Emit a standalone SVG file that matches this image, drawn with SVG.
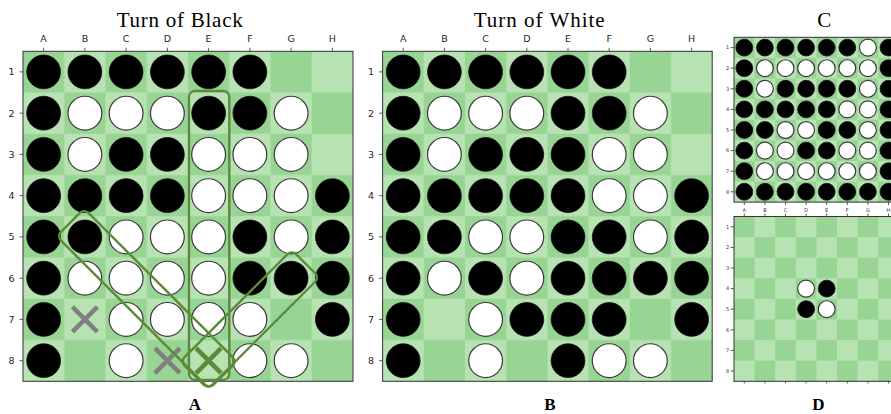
<svg xmlns="http://www.w3.org/2000/svg" xmlns:xlink="http://www.w3.org/1999/xlink" width="891" height="414" viewBox="0 0 891 414">
<style>
.dk{fill:#98d594}
.frame{fill:none;stroke:#333;stroke-width:1}
.bk{fill:#000;stroke:#111;stroke-width:0.8}
.wh{fill:#fff;stroke:#3a3a3a;stroke-width:1.2}
.sm .bk{stroke-width:0.5}
.sm .wh{stroke-width:0.7}
.tk{stroke:#333;stroke-width:0.8}
.lab{font-family:"DejaVu Sans",sans-serif;font-size:9.5px;fill:#262626}
.slab{font-family:"DejaVu Sans",sans-serif;font-size:5px;fill:#333}
.ttl{font-family:"Liberation Serif",serif;font-size:21px;fill:#000}
.cap{font-family:"Liberation Serif",serif;font-size:17px;font-weight:bold;fill:#000}
.hl{fill:none;stroke:#5b8a3c;stroke-width:2.4}
.xg{stroke:#808080;stroke-width:4.5;fill:none}
.xh{stroke:#5b8a3c;stroke-width:4.5;fill:none}
</style>
<defs>
<pattern id="chk" patternUnits="userSpaceOnUse" width="2" height="2">
<rect x="1" y="0" width="1" height="1" fill="#b7e3b2"/>
<rect x="0" y="1" width="1" height="1" fill="#b7e3b2"/>
</pattern>
<g id="bd">
<rect x="0" y="0" width="8" height="8" class="dk"/>
<rect x="0" y="0" width="8" height="8" fill="url(#chk)"/>
</g>
<circle id="b" cx="0.5" cy="0.5" r="0.41" class="bk" vector-effect="non-scaling-stroke"/>
<circle id="w" cx="0.5" cy="0.5" r="0.41" class="wh" vector-effect="non-scaling-stroke"/>
<path id="x" d="M-12.5,-12.5L12.5,12.5M-12.5,12.5L12.5,-12.5"/>
</defs>

<rect width="891" height="414" fill="#fff"/>

<!-- Titles -->
<text class="ttl" x="179.7" y="26.7" text-anchor="middle" textLength="126" lengthAdjust="spacing">Turn of Black</text>
<text class="ttl" x="539.2" y="26.7" text-anchor="middle" textLength="131" lengthAdjust="spacing">Turn of White</text>
<text class="ttl" x="824.2" y="26.7" text-anchor="middle">C</text>
<text class="cap" x="195" y="409.5" text-anchor="middle">A</text>
<text class="cap" x="550" y="409.5" text-anchor="middle">B</text>
<text class="cap" x="818.3" y="409.5" text-anchor="middle">D</text>

<!-- Board A -->
<g id="boardA">
<g transform="translate(23,51.3) scale(41.25)">
<use href="#bd"/>
<use href="#b" x="0" y="0"/><use href="#b" x="1" y="0"/><use href="#b" x="2" y="0"/><use href="#b" x="3" y="0"/><use href="#b" x="4" y="0"/><use href="#b" x="5" y="0"/>
<use href="#b" x="0" y="1"/><use href="#w" x="1" y="1"/><use href="#w" x="2" y="1"/><use href="#w" x="3" y="1"/><use href="#b" x="4" y="1"/><use href="#b" x="5" y="1"/><use href="#w" x="6" y="1"/>
<use href="#b" x="0" y="2"/><use href="#w" x="1" y="2"/><use href="#b" x="2" y="2"/><use href="#b" x="3" y="2"/><use href="#w" x="4" y="2"/><use href="#w" x="5" y="2"/><use href="#w" x="6" y="2"/>
<use href="#b" x="0" y="3"/><use href="#b" x="1" y="3"/><use href="#b" x="2" y="3"/><use href="#b" x="3" y="3"/><use href="#w" x="4" y="3"/><use href="#w" x="5" y="3"/><use href="#w" x="6" y="3"/><use href="#b" x="7" y="3"/>
<use href="#b" x="0" y="4"/><use href="#b" x="1" y="4"/><use href="#w" x="2" y="4"/><use href="#w" x="3" y="4"/><use href="#w" x="4" y="4"/><use href="#b" x="5" y="4"/><use href="#w" x="6" y="4"/><use href="#b" x="7" y="4"/>
<use href="#b" x="0" y="5"/><use href="#w" x="1" y="5"/><use href="#w" x="2" y="5"/><use href="#w" x="3" y="5"/><use href="#w" x="4" y="5"/><use href="#b" x="5" y="5"/><use href="#b" x="6" y="5"/><use href="#b" x="7" y="5"/>
<use href="#b" x="0" y="6"/><use href="#w" x="2" y="6"/><use href="#w" x="3" y="6"/><use href="#w" x="4" y="6"/><use href="#w" x="5" y="6"/><use href="#b" x="7" y="6"/>
<use href="#b" x="0" y="7"/><use href="#w" x="2" y="7"/><use href="#w" x="5" y="7"/><use href="#w" x="6" y="7"/>
</g>
<rect class="frame" x="23" y="51.3" width="330" height="330"/>
<g class="tk">
<path d="M43.6,47.8V51.3M84.9,47.8V51.3M126.1,47.8V51.3M167.4,47.8V51.3M208.6,47.8V51.3M249.9,47.8V51.3M291.1,47.8V51.3M332.4,47.8V51.3"/>
<path d="M19.5,71.9H23M19.5,113.2H23M19.5,154.4H23M19.5,195.7H23M19.5,236.9H23M19.5,278.2H23M19.5,319.4H23M19.5,360.7H23"/>
</g>
<g class="lab" text-anchor="middle">
<text x="43.6" y="41.7">A</text><text x="84.9" y="41.7">B</text><text x="126.1" y="41.7">C</text><text x="167.4" y="41.7">D</text><text x="208.6" y="41.7">E</text><text x="249.9" y="41.7">F</text><text x="291.1" y="41.7">G</text><text x="332.4" y="41.7">H</text>
</g>
<g class="lab" text-anchor="end">
<text x="14.5" y="75.3">1</text><text x="14.5" y="116.6">2</text><text x="14.5" y="157.8">3</text><text x="14.5" y="199.1">4</text><text x="14.5" y="240.3">5</text><text x="14.5" y="281.6">6</text><text x="14.5" y="322.8">7</text><text x="14.5" y="364.1">8</text>
</g>
<use href="#x" class="xg" transform="translate(84.9,319.4)"/>
<use href="#x" class="xg" transform="translate(167.4,360.7)"/>
<use href="#x" class="xh" transform="translate(208.6,360.7)"/>
</g>

<!-- Highlights on board A -->
<g id="connectors">
<rect class="hl" x="189" y="91" width="40.3" height="289" rx="6"/>
<rect class="hl" x="-108" y="-19.5" width="216" height="39" rx="6" transform="translate(146.75,298.8) rotate(45)"/>
<rect class="hl" x="-78.85" y="-19.5" width="157.7" height="39" rx="6" transform="translate(249.85,319.45) rotate(-45)"/>
</g>

<!-- Board B -->
<g id="boardB">
<g transform="translate(382.6,51.3) scale(41.2,41.25)">
<use href="#bd"/>
<use href="#b" x="0" y="0"/><use href="#b" x="1" y="0"/><use href="#b" x="2" y="0"/><use href="#b" x="3" y="0"/><use href="#b" x="4" y="0"/><use href="#b" x="5" y="0"/>
<use href="#b" x="0" y="1"/><use href="#w" x="1" y="1"/><use href="#w" x="2" y="1"/><use href="#w" x="3" y="1"/><use href="#b" x="4" y="1"/><use href="#b" x="5" y="1"/><use href="#w" x="6" y="1"/>
<use href="#b" x="0" y="2"/><use href="#w" x="1" y="2"/><use href="#b" x="2" y="2"/><use href="#b" x="3" y="2"/><use href="#b" x="4" y="2"/><use href="#w" x="5" y="2"/><use href="#w" x="6" y="2"/>
<use href="#b" x="0" y="3"/><use href="#b" x="1" y="3"/><use href="#b" x="2" y="3"/><use href="#b" x="3" y="3"/><use href="#b" x="4" y="3"/><use href="#w" x="5" y="3"/><use href="#w" x="6" y="3"/><use href="#b" x="7" y="3"/>
<use href="#b" x="0" y="4"/><use href="#b" x="1" y="4"/><use href="#w" x="2" y="4"/><use href="#w" x="3" y="4"/><use href="#b" x="4" y="4"/><use href="#b" x="5" y="4"/><use href="#w" x="6" y="4"/><use href="#b" x="7" y="4"/>
<use href="#b" x="0" y="5"/><use href="#w" x="1" y="5"/><use href="#b" x="2" y="5"/><use href="#w" x="3" y="5"/><use href="#b" x="4" y="5"/><use href="#b" x="5" y="5"/><use href="#b" x="6" y="5"/><use href="#b" x="7" y="5"/>
<use href="#b" x="0" y="6"/><use href="#w" x="2" y="6"/><use href="#b" x="3" y="6"/><use href="#b" x="4" y="6"/><use href="#b" x="5" y="6"/><use href="#b" x="7" y="6"/>
<use href="#b" x="0" y="7"/><use href="#w" x="2" y="7"/><use href="#b" x="4" y="7"/><use href="#w" x="5" y="7"/><use href="#w" x="6" y="7"/>
</g>
<rect class="frame" x="382.6" y="51.3" width="329.6" height="330"/>
<g class="tk">
<path d="M403.2,47.8V51.3M444.4,47.8V51.3M485.6,47.8V51.3M526.8,47.8V51.3M568,47.8V51.3M609.2,47.8V51.3M650.4,47.8V51.3M691.6,47.8V51.3"/>
<path d="M379.1,71.9H382.6M379.1,113.2H382.6M379.1,154.4H382.6M379.1,195.7H382.6M379.1,236.9H382.6M379.1,278.2H382.6M379.1,319.4H382.6M379.1,360.7H382.6"/>
</g>
<g class="lab" text-anchor="middle">
<text x="403.2" y="41.7">A</text><text x="444.4" y="41.7">B</text><text x="485.6" y="41.7">C</text><text x="526.8" y="41.7">D</text><text x="568" y="41.7">E</text><text x="609.2" y="41.7">F</text><text x="650.4" y="41.7">G</text><text x="691.6" y="41.7">H</text>
</g>
<g class="lab" text-anchor="end">
<text x="374" y="75.3">1</text><text x="374" y="116.6">2</text><text x="374" y="157.8">3</text><text x="374" y="199.1">4</text><text x="374" y="240.3">5</text><text x="374" y="281.6">6</text><text x="374" y="322.8">7</text><text x="374" y="364.1">8</text>
</g>
</g>

<!-- Board C -->
<g id="boardC" class="sm">
<g transform="translate(734,37.3) scale(20.6)">
<use href="#bd"/>
<use href="#b" x="0" y="0"/><use href="#b" x="1" y="0"/><use href="#b" x="2" y="0"/><use href="#b" x="3" y="0"/><use href="#b" x="4" y="0"/><use href="#b" x="5" y="0"/><use href="#w" x="6" y="0"/><use href="#b" x="7" y="0"/>
<use href="#b" x="0" y="1"/><use href="#w" x="1" y="1"/><use href="#w" x="2" y="1"/><use href="#w" x="3" y="1"/><use href="#w" x="4" y="1"/><use href="#w" x="5" y="1"/><use href="#w" x="6" y="1"/><use href="#b" x="7" y="1"/>
<use href="#b" x="0" y="2"/><use href="#w" x="1" y="2"/><use href="#b" x="2" y="2"/><use href="#b" x="3" y="2"/><use href="#b" x="4" y="2"/><use href="#b" x="5" y="2"/><use href="#w" x="6" y="2"/><use href="#b" x="7" y="2"/>
<use href="#b" x="0" y="3"/><use href="#b" x="1" y="3"/><use href="#b" x="2" y="3"/><use href="#b" x="3" y="3"/><use href="#b" x="4" y="3"/><use href="#w" x="5" y="3"/><use href="#w" x="6" y="3"/><use href="#b" x="7" y="3"/>
<use href="#b" x="0" y="4"/><use href="#b" x="1" y="4"/><use href="#w" x="2" y="4"/><use href="#w" x="3" y="4"/><use href="#b" x="4" y="4"/><use href="#b" x="5" y="4"/><use href="#w" x="6" y="4"/><use href="#b" x="7" y="4"/>
<use href="#b" x="0" y="5"/><use href="#w" x="1" y="5"/><use href="#w" x="2" y="5"/><use href="#b" x="3" y="5"/><use href="#b" x="4" y="5"/><use href="#w" x="5" y="5"/><use href="#w" x="6" y="5"/><use href="#b" x="7" y="5"/>
<use href="#b" x="0" y="6"/><use href="#w" x="1" y="6"/><use href="#w" x="2" y="6"/><use href="#w" x="3" y="6"/><use href="#w" x="4" y="6"/><use href="#w" x="5" y="6"/><use href="#w" x="6" y="6"/><use href="#b" x="7" y="6"/>
<use href="#b" x="0" y="7"/><use href="#b" x="1" y="7"/><use href="#b" x="2" y="7"/><use href="#b" x="3" y="7"/><use href="#b" x="4" y="7"/><use href="#b" x="5" y="7"/><use href="#b" x="6" y="7"/><use href="#b" x="7" y="7"/>
</g>
<rect class="frame" x="734" y="37.3" width="164.8" height="164.8" stroke-width="0.8"/>
<g class="tk" stroke-width="0.6">
<path d="M730.5,47.6H734M730.5,68.2H734M730.5,88.8H734M730.5,109.4H734M730.5,130H734M730.5,150.6H734M730.5,171.2H734M730.5,191.8H734"/>
<path d="M744.3,202.1V205M764.9,202.1V205M785.5,202.1V205M806.1,202.1V205M826.7,202.1V205M847.3,202.1V205M867.9,202.1V205M888.5,202.1V205"/>
</g>
<g class="slab" text-anchor="end">
<text x="729.3" y="49.4">1</text><text x="729.3" y="70">2</text><text x="729.3" y="90.6">3</text><text x="729.3" y="111.2">4</text><text x="729.3" y="131.8">5</text><text x="729.3" y="152.4">6</text><text x="729.3" y="173">7</text><text x="729.3" y="193.6">8</text>
</g>
</g>

<!-- Board D -->
<g id="boardD" class="sm">
<g transform="translate(734,216.5) scale(20.6)">
<use href="#bd"/>
<use href="#w" x="3" y="3"/><use href="#b" x="4" y="3"/>
<use href="#b" x="3" y="4"/><use href="#w" x="4" y="4"/>
</g>
<rect class="frame" x="734" y="216.5" width="164.8" height="164.8" stroke-width="0.8"/>
<g class="tk" stroke-width="0.6">
<path d="M730.5,226.8H734M730.5,247.4H734M730.5,268H734M730.5,288.6H734M730.5,309.2H734M730.5,329.8H734M730.5,350.4H734M730.5,371H734"/>
<path d="M744.3,213.5V216.5M764.9,213.5V216.5M785.5,213.5V216.5M806.1,213.5V216.5M826.7,213.5V216.5M847.3,213.5V216.5M867.9,213.5V216.5M888.5,213.5V216.5"/>
<path d="M744.3,381.3V383.5M764.9,381.3V383.5M785.5,381.3V383.5M806.1,381.3V383.5M826.7,381.3V383.5M847.3,381.3V383.5M867.9,381.3V383.5M888.5,381.3V383.5"/>
</g>
<g class="slab" text-anchor="middle">
<text x="744.3" y="211.6">A</text><text x="764.9" y="211.6">B</text><text x="785.5" y="211.6">C</text><text x="806.1" y="211.6">D</text><text x="826.7" y="211.6">E</text><text x="847.3" y="211.6">F</text><text x="867.9" y="211.6">G</text><text x="888.5" y="211.6">H</text>
</g>
<g class="slab" text-anchor="end">
<text x="729.3" y="228.6">1</text><text x="729.3" y="249.2">2</text><text x="729.3" y="269.8">3</text><text x="729.3" y="290.4">4</text><text x="729.3" y="311">5</text><text x="729.3" y="331.6">6</text><text x="729.3" y="352.2">7</text><text x="729.3" y="372.8">8</text>
</g>
</g>
</svg>
